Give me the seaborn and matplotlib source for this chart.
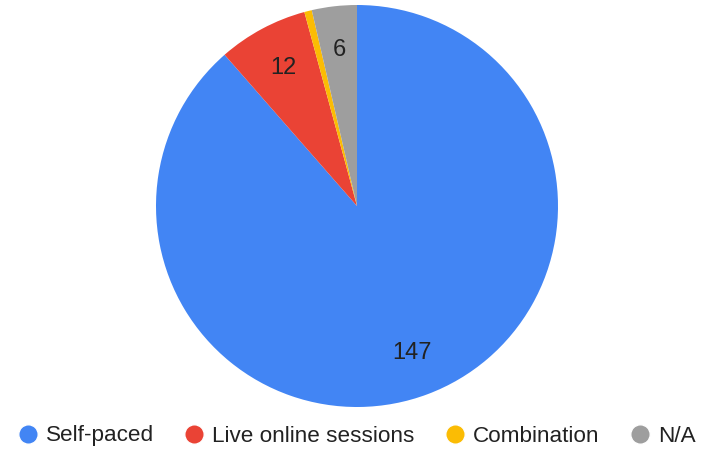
import matplotlib
matplotlib.use("Agg")
import matplotlib.pyplot as plt
import seaborn as sns
from matplotlib.lines import Line2D

categories = ["Self-paced", "Live online sessions", "Combination", "N/A"]
counts = [147, 12, 1, 6]
colors = ["#4285F4", "#EA4335", "#FBBC04", "#9E9E9E"]

sns.set_style("white")
plt.rcParams["font.family"] = ["Liberation Sans", "DejaVu Sans"]

fig = plt.figure(figsize=(7.03, 4.51), dpi=100)
ax = fig.add_axes([(357 - 201) / 703, 1 - (206 + 201) / 451, 402 / 703, 402 / 451])

total = sum(counts)


def show_value(pct):
    val = round(pct * total / 100)
    return f"{val}" if val >= 5 else ""


ax.pie(counts, colors=colors, startangle=90, counterclock=False,
       autopct=show_value, pctdistance=0.78,
       wedgeprops={"linewidth": 0},
       textprops={"fontsize": 17, "color": "#222222"})
ax.set_xlim(-1, 1)
ax.set_ylim(-1, 1)
ax.set_aspect("equal")
ax.axis("off")

handles = [Line2D([0], [0], marker="o", color="w", markerfacecolor=c,
                  markersize=14, label=l) for c, l in zip(colors, categories)]
fig.legend(handles=handles, loc="center", bbox_to_anchor=(356 / 703, 1 - 436 / 451),
           ncol=4, frameon=False, fontsize=16.2, handletextpad=0.3,
           columnspacing=1.3, handlelength=1.0, labelcolor="#222222")

fig.savefig("out.png", dpi=100)
